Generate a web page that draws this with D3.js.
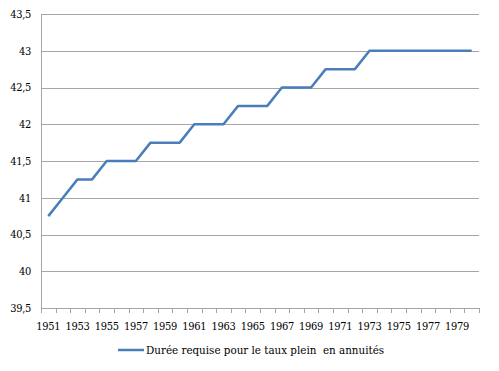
<!DOCTYPE html>
<html>
<head>
<meta charset="utf-8">
<script src="https://cdn.jsdelivr.net/npm/d3@7"></script>
<style>
  body { margin: 0; background: #fff; }
</style>
</head>
<body>
<svg id="chart" width="499" height="371"></svg>
<script>
// years of birth (categories)
const years = d3.range(1951, 1981);
// required number of years for full rate
const values = [
    40.75, 41, 41.25, 41.25, 41.5, 41.5, 41.5, 41.75, 41.75, 41.75,
    42, 42, 42, 42.25, 42.25, 42.25, 42.5, 42.5, 42.5, 42.75,
    42.75, 42.75, 43, 43, 43, 43, 43, 43, 43, 43
];
const yTicks = [39.5, 40, 40.5, 41, 41.5, 42, 42.5, 43, 43.5];
const seriesName = 'Durée requise pour le taux plein  en annuités';

const FONT = "'DejaVu Serif Condensed', 'DejaVu Serif', serif";

var margin = { top: 14, right: 20, bottom: 63, left: 41 },
    width = 499 - margin.left - margin.right,
    height = 371 - margin.top - margin.bottom;

const svg = d3.select('#chart');
const g = svg.append('g').attr('transform', `translate(${margin.left},${margin.top})`);

var x = d3.scaleBand()
    .domain(years)
    .range([0, width]);

var y = d3.scaleLinear()
    .domain([39.5, 43.5])
    .range([height, 0]);

const fmt = d => String(d).replace('.', ',');

///////////////////////////////
// grid + y labels
///////////////////////////////
g.append('g')
    .selectAll('line')
    .data(yTicks.slice(1))
    .enter()
    .append('line')
        .attr('x1', 0)
        .attr('x2', width)
        .attr('y1', d => Math.round(y(d)) + 0.5)
        .attr('y2', d => Math.round(y(d)) + 0.5)
        .attr('stroke', '#a6a6a6')
        .attr('stroke-width', 1);

g.append('g')
    .selectAll('text')
    .data(yTicks)
    .enter()
    .append('text')
        .attr('x', -10)
        .attr('y', d => y(d))
        .attr('dy', '0.35em')
        .attr('text-anchor', 'end')
        .attr('font-family', FONT)
        .attr('font-size', 11)
        .attr('letter-spacing', -0.3)
        .text(fmt);

// left axis line
g.append('line')
    .attr('x1', 0.5).attr('x2', 0.5)
    .attr('y1', 0).attr('y2', height)
    .attr('stroke', '#a6a6a6');

///////////////////////////////
// x axis
///////////////////////////////
g.append('line')
    .attr('x1', 0).attr('x2', width)
    .attr('y1', Math.round(height) + 0.5).attr('y2', Math.round(height) + 0.5)
    .attr('stroke', '#a6a6a6');

const bounds = years.map(d => x(d)).concat([width]);
g.append('g')
    .selectAll('line')
    .data(bounds)
    .enter()
    .append('line')
        .attr('x1', d => Math.round(d) + 0.5)
        .attr('x2', d => Math.round(d) + 0.5)
        .attr('y1', Math.round(height))
        .attr('y2', Math.round(height) + 5)
        .attr('stroke', '#a6a6a6');

g.append('g')
    .selectAll('text')
    .data(years.filter((d, i) => i % 2 == 0))
    .enter()
    .append('text')
        .attr('x', d => x(d) + x.bandwidth() / 2)
        .attr('y', height + 22)
        .attr('text-anchor', 'middle')
        .attr('font-family', FONT)
        .attr('font-size', 11)
        .attr('letter-spacing', -0.3)
        .text(d => d);

///////////////////////////////
// series line
///////////////////////////////
const line = d3.line()
    .x((d, i) => x(years[i]) + x.bandwidth() / 2)
    .y(d => y(d));

g.append('path')
    .datum(values)
    .attr('d', line)
    .attr('fill', 'none')
    .attr('stroke', '#4a7ebb')
    .attr('stroke-width', 2.5)
    .attr('stroke-linejoin', 'round');

///////////////////////////////
// legend
///////////////////////////////
const leg = svg.append('g').attr('transform', 'translate(118,350)');
leg.append('line')
    .attr('x1', 0).attr('x2', 26)
    .attr('y1', 0).attr('y2', 0)
    .attr('stroke', '#4a7ebb')
    .attr('stroke-width', 2.5);
leg.append('text')
    .attr('x', 28)
    .attr('y', 0)
    .attr('dy', '0.35em')
    .attr('font-family', FONT)
    .attr('font-size', 11.5)
    .attr('xml:space', 'preserve')
    .style('white-space', 'pre')
    .text(seriesName);
</script>
</body>
</html>
